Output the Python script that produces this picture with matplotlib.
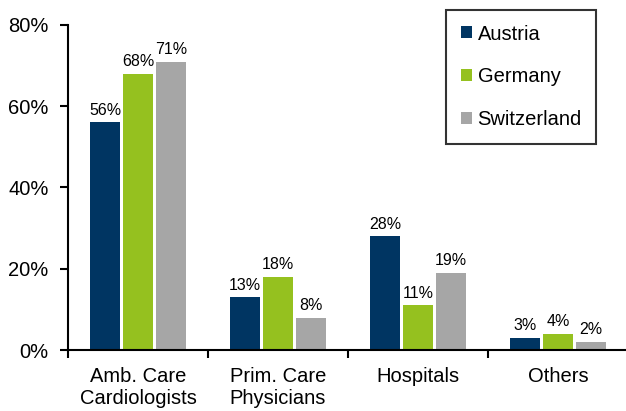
import numpy as np
import matplotlib.pyplot as plt
from matplotlib.ticker import FuncFormatter, FixedLocator

plt.rcParams['font.family'] = ['Liberation Sans', 'DejaVu Sans']

categories = ['Amb. Care\nCardiologists', 'Prim. Care\nPhysicians', 'Hospitals', 'Others']
countries = ['Austria', 'Germany', 'Switzerland']
austria = [56, 13, 28, 3]
germany = [68, 18, 11, 4]
switzerland = [71, 8, 19, 2]
colors = ['#003562', '#95c11f', '#a6a6a6']

series = [austria, germany, switzerland]

fig = plt.figure(figsize=(6.26, 4.11), dpi=100)
ax = fig.add_axes([68 / 626, 61 / 411, 560 / 626, 325 / 411])

x = np.arange(len(categories))
step = 0.236
width = 0.215
for i, (vals, name, col) in enumerate(zip(series, countries, colors)):
    pos = x + (i - 1) * step
    bars = ax.bar(pos, np.array(vals) / 100, width, color=col, label=name)
    for b, v in zip(bars, vals):
        ax.text(b.get_x() + b.get_width() / 2, b.get_height() + 0.011, f'{v}%',
                ha='center', va='bottom', fontsize=11.5)

ax.set_xlim(-0.5, 3.5)
ax.set_ylim(0, 0.8)
ax.set_yticks(np.arange(0, 0.81, 0.2))
ax.yaxis.set_major_formatter(FuncFormatter(lambda v, _: f'{v * 100:.0f}%'))
ax.tick_params(axis='y', labelsize=14.5, length=6, width=1.5, direction='out', pad=8)

# group separators as ticks, category names centred between them
ax.xaxis.set_major_locator(FixedLocator(np.arange(-0.5, 3.6, 1.0)))
ax.xaxis.set_minor_locator(FixedLocator(x))
ax.set_xticklabels([])
ax.set_xticklabels(categories, minor=True)
ax.tick_params(axis='x', which='major', length=6, width=1.5, direction='out')
ax.tick_params(axis='x', which='minor', length=0, labelsize=14.5, pad=12)

for s in ['top', 'right']:
    ax.spines[s].set_visible(False)
for s in ['left', 'bottom']:
    ax.spines[s].set_linewidth(1.5)

leg = ax.legend(loc='upper left', bbox_to_anchor=(378 / 560, 1.0 + 15 / 325),
                fontsize=14.5, frameon=True, fancybox=False, edgecolor='black',
                handlelength=0.55, handleheight=0.55, handletextpad=0.3,
                labelspacing=1.18, borderpad=0.72, borderaxespad=0)
leg.get_frame().set_linewidth(1.5)

fig.savefig('out.png', dpi=100)
